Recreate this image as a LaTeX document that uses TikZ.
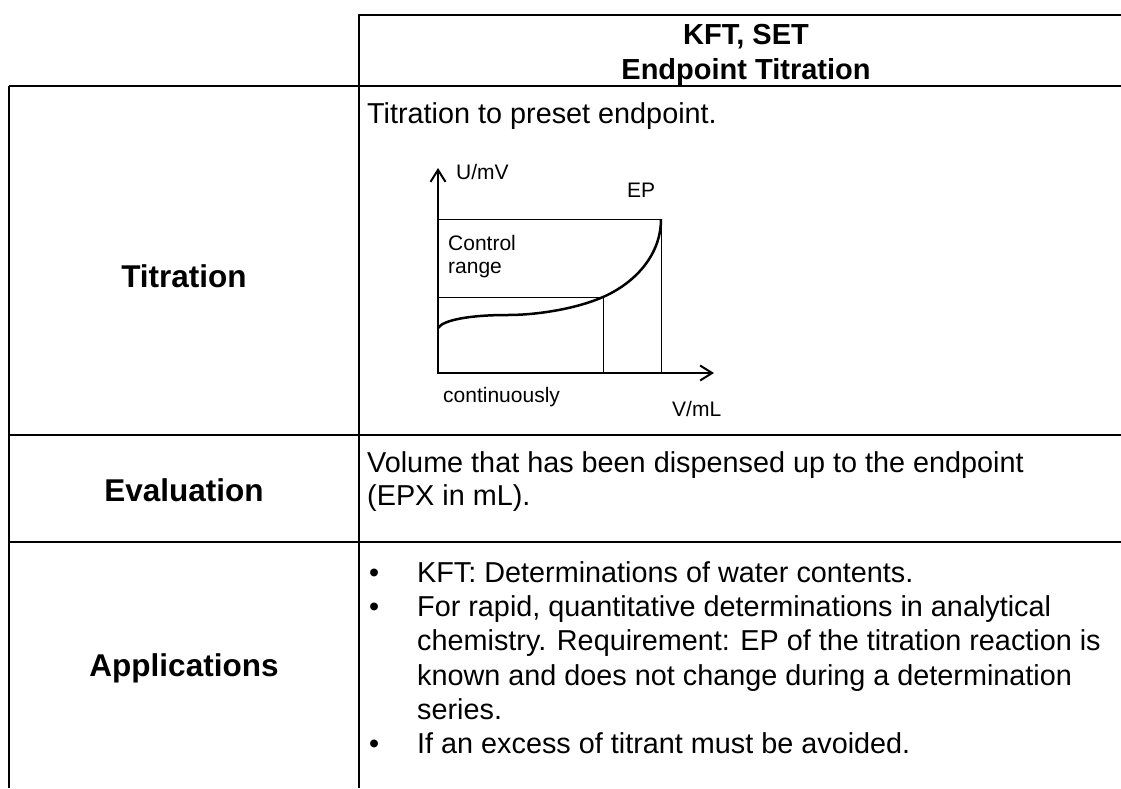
\documentclass[tikz,border=0pt]{standalone}
\usepackage{fontspec}
\setmainfont{Liberation Sans}
\usetikzlibrary{arrows.meta}

\tikzset{
  rule/.style={line width=2pt},
  thinrule/.style={line width=1pt},
  rowlabel/.style={anchor=base, inner sep=0pt, font=\fontsize{31.5}{36}\selectfont\bfseries},
  headtext/.style={anchor=base, inner sep=0pt, font=\fontsize{29}{34}\selectfont\bfseries},
  bodytext/.style={anchor=base west, inner sep=0pt, font=\fontsize{28.8}{34}\selectfont},
  plottext/.style={anchor=base west, inner sep=0pt, font=\fontsize{21}{25}\selectfont},
}

\begin{document}
\begin{tikzpicture}[x=1pt, y=-1pt, >={Straight Barb[length=12pt,width=15pt]}]
  \useasboundingbox (0,0) rectangle (1121,788);

  % Table rules
  \draw[rule] (359,15) -- (1121,15);
  \draw[rule] (9,86) -- (1121,86);
  \draw[rule] (9,435) -- (1121,435);
  \draw[rule] (9,542) -- (1121,542);
  \draw[rule] (9,86) -- (9,788);
  \draw[rule] (359,14) -- (359,788);

  % Header
  \node[headtext] (hdA) at (746,44) {KFT, SET};
  \node[headtext] (hdB) at (746,79) {Endpoint Titration};

  % Row labels
  \node[rowlabel] (lblTitr) at (184,287) {Titration};
  \node[rowlabel] (lblEval) at (184,501) {Evaluation};
  \node[rowlabel] (lblAppl) at (184,676) {Applications};

  % Titration cell
  \node[bodytext] (txtTitr) at (367,123) {Titration to preset endpoint.};

  % Plot of the titration curve
  \coordinate (O) at (438,373);
  \coordinate (yTip) at (438,168);
  \coordinate (xTip) at (714,373);
  \coordinate (EPpt) at (661,219);
  \coordinate (CRpt) at (603,297);
  \draw[thinrule] (O |- EPpt) -- (EPpt) -- (EPpt |- O);
  \draw[thinrule] (O |- CRpt) -- (CRpt) -- (CRpt |- O);
  \draw[rule, <->] (yTip) -- (O) -- (xTip);
  \draw[line width=2.5pt] (438,328) .. controls (443,320) and (470,315) .. (507,315)
    .. controls (540,315) and (578,308) .. (CRpt)
    .. controls (635,283) and (661,255) .. (EPpt);
  \node[plottext] (yLab) at (456,179) {U/mV};
  \node[plottext] (epLab) at (627,197) {EP};
  \node[plottext] (ctrlA) at (448,250) {Control};
  \node[plottext] (ctrlB) at (448,273) {range};
  \node[plottext] (contLab) at (443,402) {continuously};
  \node[plottext] (xLab) at (672,416) {V/mL};

  % Evaluation cell
  \node[bodytext] (txtEvalA) at (367,472) {Volume that has been dispensed up to the endpoint};
  \node[bodytext] (txtEvalB) at (367,505) {(EPX in mL).};

  % Applications cell
  \node[bodytext] (appA) at (369,582) {\makebox[48pt][l]{\textbullet}KFT: Determinations of water contents.};
  \node[bodytext] (appB) at (369,616) {\makebox[48pt][l]{\textbullet}For rapid, quantitative determinations in analytical};
  \node[bodytext] (appC) at (417,650) {chemistry. Requirement: EP of the titration reaction is};
  \node[bodytext] (appD) at (417,685) {known and does not change during a determination};
  \node[bodytext] (appE) at (417,719) {series.};
  \node[bodytext] (appF) at (369,753) {\makebox[48pt][l]{\textbullet}If an excess of titrant must be avoided.};
\end{tikzpicture}
\end{document}
